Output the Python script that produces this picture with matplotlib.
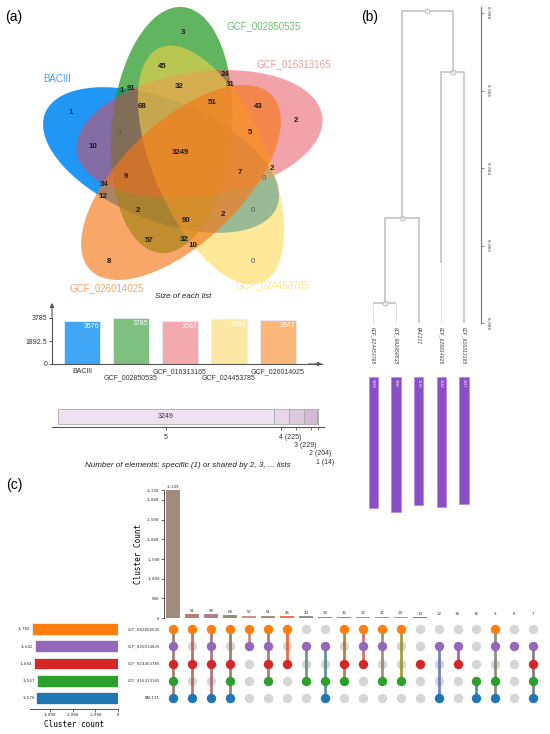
import numpy as np
import matplotlib
matplotlib.use("Agg")
import matplotlib.pyplot as plt
from matplotlib.patches import Ellipse

W, H = 550, 734
SANS = "Liberation Sans"
MONO = "DejaVu Sans Mono"

# ---------------- data ----------------
# (a) Venn diagram
venn_sets = ["GCF_002850535", "BACIII", "GCF_026014025", "GCF_024453785", "GCF_016313165"]
venn_colors = ["#1e961e", "#1491f5", "#f57818", "#ffd746", "#e64655"]
venn_alpha = [0.7, 0.95, 0.65, 0.55, 0.5]
venn_label_colors = ["#70c074", "#3aa0f8", "#f7a566", "#fde68a", "#f29aa3"]
venn_counts = [3, 45, 24, 31, 1, 1, 91, 32, 68, 51, 43, 2, 0, 10, 3249, 5,
               9, 34, 12, 7, 2, 0, 2, 90, 2, 0, 57, 32, 10, 8, 0]

# size of each list
list_names = ["BACIII", "GCF_002850535", "GCF_016313165", "GCF_024453785", "GCF_026014025"]
list_sizes = [3576, 3785, 3567, 3684, 3642]
list_colors = ["#42a6f7", "#7fbf7f", "#f4a9ae", "#fbe8a4", "#fbb679"]

# elements shared by n lists
degree_labels = ["5", "4 (225)", "3 (229)", "2 (204)", "1 (14)"]
degree_counts = [3249, 225, 229, 204, 14]
degree_colors = ["#eee2ee", "#e6d6e6", "#dccadc", "#d2bad2", "#9c7c9c"]

# (b) dendrogram
tree_leaves = ["GCF_024453785", "GCF_002850535", "BACIII", "GCF_026014025", "GCF_016313165"]
tree_leaf_sizes = [3684, 3785, 3576, 3642, 3567]
tree_leaf_tip = [0.00053, 0.00053, 0.0, 0.00155, 0.0]
# merges: (child a, child b, height); new nodes numbered from 5
tree_merges = [(0, 1, 0.00053), (5, 2, 0.00271), (3, 4, 0.00647), (6, 7, 0.00806)]

# (c) upset
upset_sets = ["GCF_002850535", "GCF_026014025", "GCF_024453785", "GCF_016313165", "BACIII"]
upset_set_sizes = [3785, 3642, 3684, 3567, 3576]
upset_colors = ["#ff7f0e", "#9467bd", "#d62728", "#2ca02c", "#1f77b4"]
upset_counts = [3249, 91, 90, 68, 57, 51, 45, 43, 34, 32, 32, 31, 24, 13, 12, 10, 10, 9, 8, 7]
upset_members = [(0, 1, 2, 3, 4), (0, 2, 4), (0, 1, 2, 4), (0, 2, 3, 4), (0, 1),
                 (0, 1, 2, 3), (0, 2), (1, 3), (1, 3, 4), (0, 2, 3), (0, 1, 2),
                 (0, 1, 3), (0, 3), (2,), (1, 4), (1, 2), (3, 4), (0, 1, 3, 4),
                 (1,), (1, 2, 3, 4)]

fig = plt.figure(figsize=(W / 100, H / 100), dpi=100)
fig.patch.set_facecolor("white")


def px_axes(x0, y0, x1, y1):
    a = fig.add_axes([x0 / W, 1 - y1 / H, (x1 - x0) / W, (y1 - y0) / H])
    a.set_facecolor("none")
    return a


# ---------------- (a) venn ----------------
ax = px_axes(0, 0, 330, 300)
ax.set_xlim(0, 330)
ax.set_ylim(300, 0)
ax.axis("off")
# ellipse geometry in pixel space: centre, full length, full width, angle
ell_geom = [((171.5, 130), 247, 120, 95.3),
            ((161, 160), 250, 120, 22.1),
            ((181, 182.5), 252, 120, -43.9),
            ((211, 165), 256, 114, 66.4),
            ((199.5, 134), 248, 124, 171.6)]
for i in [1, 0, 4, 3, 2]:
    c, L, Wd, ang = ell_geom[i]
    ax.add_patch(Ellipse(c, L, Wd, angle=ang, facecolor=venn_colors[i],
                         alpha=venn_alpha[i], edgecolor="none"))

count_xy = [(183, 32), (162, 67), (225, 75), (230, 84), (71, 113), (122, 91),
            (131, 88), (179, 86), (142, 107), (212, 102), (258, 106), (296, 121),
            (119, 133), (93, 147), (180, 153), (250, 133), (126, 177), (104, 184),
            (103, 196), (240, 173), (272, 168), (264, 179), (138, 211), (186, 220),
            (223, 214), (253, 211), (149, 240), (184, 239), (193, 245), (109, 261),
            (253, 261)]
for n, (x, y) in zip(venn_counts, count_xy):
    ax.text(x, y, str(n), ha="center", va="center", fontsize=5.7, family=SANS,
            fontweight="normal" if n == 0 else "bold",
            color="#555555" if n == 0 else "#1a1a1a")

label_xy = [(264, 26), (57, 79), (107, 288), (273, 285), (294, 64)]
for name, col, (x, y) in zip(venn_sets, venn_label_colors, label_xy):
    ax.text(x, y, name, ha="center", va="center", fontsize=7, family=SANS,
            color=col, clip_on=False)

# size of each list
ax = px_axes(52, 318, 322, 364)
xs = np.arange(len(list_names))
ax.bar(xs, list_sizes, width=0.73, color=list_colors, edgecolor="#e6eef8", linewidth=0.6)
ax.set_xlim(-0.612, 4.898)
ax.set_ylim(0, 3785)
for s in ["top", "right"]:
    ax.spines[s].set_visible(False)
for s in ["left", "bottom"]:
    ax.spines[s].set_color("#555555")
    ax.spines[s].set_linewidth(0.8)
ax.set_yticks([0, 1892.5, 3785])
ax.set_yticklabels(["0", "1892.5", "3785"], fontsize=5, family=SANS)
ax.tick_params(axis="y", length=2, width=0.6, pad=1.5, colors="#333333")
ax.set_xticks(xs)
ax.set_xticklabels([n if k % 2 == 0 else "\n" + n for k, n in enumerate(list_names)],
                   fontsize=5, family=SANS, linespacing=0.9)
ax.tick_params(axis="x", length=0, pad=3, colors="#333333")
for x, v in zip(xs, list_sizes):
    ax.text(x + 0.2, v - 450, str(v), ha="center", va="center", fontsize=5,
            family=SANS, color="white")
ax.annotate("", xy=(0, 1.33), xytext=(0, 1.0), xycoords="axes fraction",
            arrowprops=dict(arrowstyle="-|>", color="#555555", lw=0.8,
                            mutation_scale=6, shrinkA=0, shrinkB=0))
ax.annotate("", xy=(1.0, 0), xytext=(0.95, 0), xycoords="axes fraction",
            arrowprops=dict(arrowstyle="-|>", color="#555555", lw=0.8,
                            mutation_scale=6, shrinkA=0, shrinkB=0))
ax.text(0.485, 1.47, "Size of each list", transform=ax.transAxes, ha="center",
        va="center", fontsize=5.8, style="italic", family=SANS, color="#222222")

# shared-by-n bar
ax = px_axes(51.8, 405, 323.7, 427.4)
ax.set_xlim(-93, 4001)
ax.set_ylim(0, 1)
left = 0
centers = []
for c, col in zip(degree_counts, degree_colors):
    ax.barh(0.485, c, left=left, height=0.67, color=col, edgecolor="#aaaaaa",
            linewidth=0.6)
    centers.append(left + c / 2)
    left += c
ax.text(degree_counts[0] / 2, 0.485, str(degree_counts[0]), ha="center",
        va="center", fontsize=5, family=SANS, color="#333333")
for s in ["top", "right", "left"]:
    ax.spines[s].set_visible(False)
ax.spines["bottom"].set_color("#555555")
ax.spines["bottom"].set_linewidth(0.8)
ax.set_yticks([])
ax.set_xticks(centers)
ax.set_xticklabels([])
ax.tick_params(axis="x", length=2.5, width=0.6, colors="#555555")
for k, (c, lab) in enumerate(zip(centers, degree_labels)):
    if k == 0:
        ax.text(c, -0.43, lab, ha="center", va="center", fontsize=5, family=SANS,
                color="#333333", clip_on=False)
    else:
        ax.text(c - 30, -0.43 - (k - 1) * 0.375, lab, ha="left", va="center",
                fontsize=5, family=SANS, color="#333333", clip_on=False)
ax.text(0.5, -1.7, "Number of elements: specific (1) or shared by 2, 3, ... lists",
        transform=ax.transAxes, ha="center", va="center", fontsize=5.8,
        style="italic", family=SANS, color="#222222")

# ---------------- (b) dendrogram ----------------
ax = px_axes(362, 6.7, 480.7, 323.3)
ax.set_xlim(-0.5, 4.737)
ax.set_ylim(0, 0.00816)
node_x = {i: float(i) for i in range(len(tree_leaves))}
node_h = {i: tree_leaf_tip[i] for i in range(len(tree_leaves))}
lc = "#c4c4c4"
for i in range(len(tree_leaves)):
    if tree_leaf_tip[i] > 0:
        ax.plot([i, i], [0, tree_leaf_tip[i]], color=lc, lw=0.7, ls=(0, (1, 1)))
for k, (a_, b_, h) in enumerate(tree_merges):
    n = len(tree_leaves) + k
    xa, xb = node_x[a_], node_x[b_]
    ax.plot([xa, xa, xb, xb], [node_h[a_], h, h, node_h[b_]], color=lc, lw=1.2,
            solid_capstyle="butt")
    node_x[n] = (xa + xb) / 2
    node_h[n] = h
    ax.plot(node_x[n], h, "o", ms=3.6, mfc="#ececec", mec="#bdbdbd", mew=0.6)
for s in ["top", "left", "bottom"]:
    ax.spines[s].set_visible(False)
ax.spines["right"].set_color("#777777")
ax.spines["right"].set_linewidth(0.8)
ax.set_xticks([])
ax.yaxis.tick_right()
ax.set_yticks([0, 0.002, 0.004, 0.006, 0.008])
ax.set_yticklabels(["0.000", "0.002", "0.004", "0.006", "0.008"], rotation=-90,
                   va="center", fontsize=3.2, family=MONO, color="#444444")
ax.tick_params(axis="y", length=2, width=0.6, pad=1.5, colors="#777777",
               labelcolor="#444444")
for i, name in enumerate(tree_leaves):
    ax.text(i, -0.0001, name, rotation=-90, ha="center", va="top", fontsize=3.4,
            family="Liberation Mono", style="italic", color="#333333", clip_on=False)

ax = px_axes(362, 377, 480.7, 515)
ax.set_xlim(-0.5, 4.737)
ax.set_ylim(138 / (135 / 3785), 0)
ax.bar(np.arange(len(tree_leaves)), tree_leaf_sizes, width=0.4, color="#8a4fc8",
       edgecolor="#b28ae0", linewidth=0.5)
for i, v in enumerate(tree_leaf_sizes):
    ax.text(i, 60, str(v), rotation=-90, ha="center", va="top", fontsize=2.8,
            family=SANS, color="white")
ax.axis("off")

# ---------------- (c) upset ----------------
ncol = len(upset_counts)
col_colors = [np.mean([matplotlib.colors.to_rgb(upset_colors[m]) for m in mem], axis=0)
              for mem in upset_members]

ax = px_axes(163.8, 490, 544.7, 618)
ax.bar(np.arange(ncol), upset_counts, width=0.74, color=col_colors, alpha=0.8)
ax.set_xlim(-0.5, 19.6)
ax.set_ylim(0, 3249)
for s in ["top", "right", "bottom"]:
    ax.spines[s].set_visible(False)
ax.spines["left"].set_linewidth(0.6)
ax.spines["left"].set_color("#333333")
ax.set_xticks([])
yt = [0, 500, 1000, 1500, 2000, 2500, 3000, 3249]
ax.set_yticks(yt)
ax.set_yticklabels([f"{v:,}" for v in yt], fontsize=3, family=MONO)
ax.tick_params(axis="y", length=2, width=0.5, pad=1, colors="#333333")
for i, v in enumerate(upset_counts):
    ax.text(i, v + 40, f"{v:,}", ha="center", va="bottom",
            fontsize=3, family=MONO, color="#333333", clip_on=False)
ax.set_ylabel("Cluster Count", fontsize=5.5, family=MONO, labelpad=3)

ax = px_axes(163.8, 620, 544.7, 707)
ax.set_xlim(-0.5, 19.6)
ax.set_ylim(4.544, -0.544)
ax.axis("off")
for j in range(ncol):
    mem = upset_members[j]
    for r in range(len(upset_sets)):
        if r not in mem:
            ax.scatter(j, r, s=46, color="#d6d6d6", zorder=1, linewidths=0)
    if len(mem) > 1:
        ax.plot([j, j], [min(mem), max(mem)], color=col_colors[j], lw=2, alpha=0.85,
                zorder=2, solid_capstyle="butt")
    for r in mem:
        ax.scatter(j, r, s=46, color=upset_colors[r], zorder=3, linewidths=0)
for r, name in enumerate(upset_sets):
    ax.text(-0.7, r, name, ha="right", va="center", fontsize=3, family=MONO,
            color="#333333", clip_on=False)

ax = px_axes(30.5, 620, 118.3, 709)
rows = np.arange(len(upset_sets))
ax.barh(rows, upset_set_sizes, height=0.7, color=upset_colors, edgecolor="#f0f0f0",
        linewidth=0.6)
ax.set_xlim(3838, 0)
ax.set_ylim(4.661, -0.544)
for s in ["top", "left", "right"]:
    ax.spines[s].set_visible(False)
ax.spines["bottom"].set_linewidth(0.6)
ax.spines["bottom"].set_color("#333333")
ax.set_yticks([])
xt = [3000, 2000, 1000, 0]
ax.set_xticks(xt)
ax.set_xticklabels([f"{v:,}" for v in xt], fontsize=3, family=MONO)
ax.tick_params(axis="x", length=2, width=0.5, pad=1, colors="#333333")
for r, v in zip(rows, upset_set_sizes):
    ax.text(v + 60, r, f"{v:,}", ha="right", va="center", fontsize=3, family=MONO,
            color="#333333", clip_on=False)
ax.set_xlabel("Cluster count", fontsize=5.5, family=MONO, labelpad=2)

# panel labels
fig.text(14 / W, 1 - 17 / H, "(a)", fontsize=10, family=SANS, ha="center", va="center")
fig.text(370 / W, 1 - 17 / H, "(b)", fontsize=10, family=SANS, ha="center", va="center")
fig.text(14 / W, 1 - 485 / H, "(c)", fontsize=10, family=SANS, ha="center", va="center")

fig.savefig("out.png", dpi=100)
